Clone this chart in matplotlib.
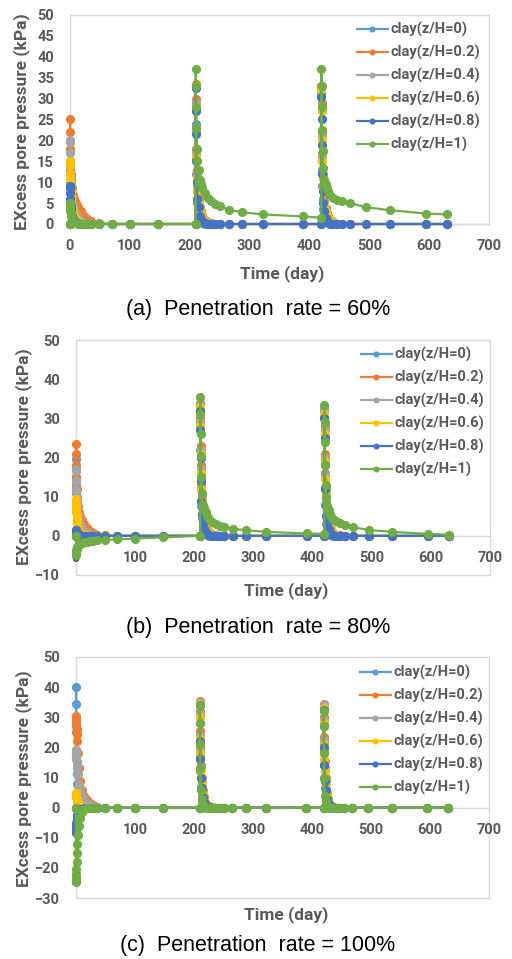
import matplotlib
matplotlib.use("Agg")
import matplotlib.pyplot as plt
from matplotlib.patches import Rectangle
from matplotlib import font_manager as fm

BOLD_FAMILIES = []
for fam in ['Roboto', 'Lato', 'Open Sans', 'Inter', 'Noto Sans', 'DejaVu Sans']:
    try:
        p = fm.findfont(fm.FontProperties(family=fam, weight='bold'), fallback_to_default=False)
        if 'bold' in p.lower():
            BOLD_FAMILIES.append(fam)
    except Exception:
        pass
BOLD_FAMILIES = BOLD_FAMILIES[:1] + ['DejaVu Sans']

plt.rcParams['font.family'] = BOLD_FAMILIES
plt.rcParams['font.weight'] = 'bold'

# ---------------- data ----------------
SERIES = ["clay(z/H=0)", "clay(z/H=0.2)", "clay(z/H=0.4)",
          "clay(z/H=0.6)", "clay(z/H=0.8)", "clay(z/H=1)"]
COLORS = ["#5B9BD5", "#ED7D31", "#A5A5A5", "#FFC000", "#4472C4", "#70AD47"]
CAPTIONS = ["(a)  Penetration  rate = 60%",
            "(b)  Penetration  rate = 80%",
            "(c)  Penetration  rate = 100%"]
X_TICKS = [0, 100, 200, 300, 400, 500, 600, 700]

TIME = ([0, 0.1, 0.2, 0.3, 0.5, 0.7, 1, 1.5, 2, 3, 5, 7, 10, 14, 18, 23, 28, 35, 49, 70, 100, 147]
        + [210, 210.1, 210.3, 210.6, 211, 212, 213, 215, 217, 219, 221, 225, 230, 236, 243, 251, 265, 288, 322, 390]
        + [420, 420.1, 420.3, 420.6, 421, 422, 423, 425, 427, 429, 431, 435, 440, 446, 455, 468, 495, 535, 595, 630])

# Panel (a) penetration rate 60 %
a_z00 = ([0, 14, 13, 12, 10, 9, 8, 6, 5, 3.5, 2, 1.2, 0.6, 0.3, 0.1, 0, 0, 0, 0, 0, 0, 0]
         + [0, 33, 24, 16, 12, 8, 5, 2.5, 1.2, 0.6, 0.3, 0.1, 0, 0, 0, 0, 0, 0, 0, 0]
         + [0, 31, 22, 13, 9, 6, 3.5, 1.8, 0.9, 0.4, 0.2, 0, 0, 0, 0, 0, 0, 0, 0, 0])
a_z02 = ([0, 25, 22, 18, 15, 13, 12, 10.5, 9.5, 8.5, 7, 6, 5, 4, 3, 2, 1.3, 0.6, 0.2, 0, 0, 0]
         + [0, 33.5, 30, 23, 18, 13, 10, 6, 4, 3, 2, 1, 0.5, 0.2, 0, 0, 0, 0, 0, 0]
         + [0, 33, 29, 22, 17, 12, 9, 5.5, 3.8, 2.6, 1.8, 0.9, 0.4, 0.1, 0, 0, 0, 0, 0, 0])
a_z04 = ([0, 20, 19.5, 17, 15, 13, 11, 9, 8, 6.5, 4.5, 3.5, 2.5, 1.5, 0.9, 0.5, 0.2, 0, 0, 0, 0, 0]
         + [0, 33, 29, 22, 17, 12, 9, 5.5, 3.8, 2.6, 1.8, 0.9, 0.4, 0.1, 0, 0, 0, 0, 0, 0]
         + [0, 32.5, 28, 21, 16, 11.5, 8.5, 5, 3.5, 2.4, 1.6, 0.8, 0.3, 0.1, 0, 0, 0, 0, 0, 0])
a_z06 = ([0, 15, 14, 12, 10.5, 9, 8, 7, 6, 4.5, 3, 2, 1.2, 0.6, 0.3, 0.1, 0, 0, 0, 0, 0, 0]
         + [0, 33, 28, 22, 16, 11, 8, 5, 3.5, 2.4, 1.6, 0.8, 0.3, 0.1, 0, 0, 0, 0, 0, 0]
         + [0, 32, 27, 20, 15, 11, 8, 4.5, 3, 2, 1.4, 0.6, 0.2, 0, 0, 0, 0, 0, 0, 0])
a_z08 = ([0, 9, 8.5, 7.5, 6, 5, 4.5, 3.5, 3, 2, 1.2, 0.7, 0.4, 0.2, 0.1, 0, 0, 0, 0, 0, 0, 0]
         + [0, 32.5, 27, 21.5, 15, 10, 6, 4, 2, 1.2, 0.7, 0.3, 0.1, 0, 0, 0, 0, 0, 0, 0]
         + [0, 30.5, 25, 19, 12, 8, 5, 3, 1.5, 0.8, 0.4, 0.1, 0, 0, 0, 0, 0, 0, 0, 0])
a_z10 = ([0, 5, 4.5, 4, 3.5, 3, 2.7, 2.2, 1.8, 1.3, 0.8, 0.5, 0.3, 0.1, 0, 0, 0, 0, 0, 0, 0, 0]
         + [0, 37, 33, 28, 23, 18, 15, 13, 10.5, 9.5, 8.5, 7.5, 6.3, 5.5, 4.8, 4.2, 3.4, 2.8, 2.3, 1.8]
         + [1.5, 37, 33, 28, 22.5, 17.5, 13.5, 10.5, 9.5, 8.5, 8, 7, 6.3, 5.8, 5.5, 5, 4, 3.3, 2.5, 2.3])

# Panel (b) penetration rate 80 %
b_z00 = ([0, 19.5, 17, 15, 12, 11, 9.5, 7.5, 6, 4, 2.5, 1.5, 0.8, 0.4, 0.2, 0.1, 0, 0, 0, 0, 0, 0]
         + [0, 32, 22, 15.5, 12, 7.5, 4.5, 2, 1, 0.5, 0.2, 0, 0, 0, 0, 0, 0, 0, 0, 0]
         + [0, 30, 20, 12.5, 8, 5, 3, 1.5, 0.7, 0.3, 0.1, 0, 0, 0, 0, 0, 0, 0, 0, 0])
b_z02 = ([0, 23.5, 21, 18, 15, 13, 12, 10, 9, 7.5, 6, 5, 4, 3, 2, 1.2, 0.6, 0.3, 0.1, 0, 0, 0]
         + [0, 34, 30, 23, 18, 13, 10, 6, 4, 2.8, 2, 1, 0.4, 0.1, 0, 0, 0, 0, 0, 0]
         + [0, 32.5, 28, 21, 16, 12, 9, 5.5, 3.8, 2.5, 1.7, 0.8, 0.3, 0.1, 0, 0, 0, 0, 0, 0])
b_z04 = ([0, 17, 16.5, 14, 12, 11.5, 10, 8.5, 7, 5.5, 4, 3, 2, 1.2, 0.6, 0.3, 0.1, 0, 0, 0, 0, 0]
         + [0, 33.5, 29, 22, 17, 12.5, 9.5, 5.5, 3.8, 2.6, 1.8, 0.9, 0.3, 0.1, 0, 0, 0, 0, 0, 0]
         + [0, 32, 27, 20, 15.5, 11.5, 8.5, 5, 3.4, 2.3, 1.5, 0.7, 0.2, 0, 0, 0, 0, 0, 0, 0])
b_z06 = ([0, 9.5, 9, 8, 7, 6, 5, 4, 3.2, 2.2, 1.4, 0.8, 0.4, 0.2, 0.1, 0, 0, 0, 0, 0, 0, 0]
         + [0, 33, 28, 21, 16, 12, 9, 5, 3.5, 2.4, 1.6, 0.8, 0.3, 0, 0, 0, 0, 0, 0, 0]
         + [0, 31, 26, 19, 14.5, 10.5, 8, 4.5, 3, 2, 1.3, 0.6, 0.2, 0, 0, 0, 0, 0, 0, 0])
b_z08 = ([0, 1.5, 1.4, 1.2, 1, 0.9, 0.8, 0.6, 0.5, 0.3, 0.2, 0.1, 0, 0, 0, 0, 0, 0, 0, 0, 0, 0]
         + [0, 32, 27, 20, 14, 9, 5.5, 3.5, 2, 1, 0.5, 0.2, 0, 0, 0, 0, 0, 0, 0, 0]
         + [0, 30, 25, 18, 12, 8, 5, 3, 1.7, 0.9, 0.4, 0.1, 0, 0, 0, 0, 0, 0, 0, 0])
b_z10 = ([0, -5, -4.7, -4.4, -4, -3.7, -3.4, -3, -2.8, -2.5, -2.2, -2, -1.8, -1.6, -1.5, -1.3, -1.2, -1.1, -1, -0.9, -0.7, -0.4]
         + [0, 35.5, 31, 26, 20.5, 15, 11, 8, 7, 6, 5, 4.3, 3.6, 3, 2.6, 2.3, 1.8, 1.4, 1, 0.6]
         + [0.5, 33.5, 29, 24, 18, 13, 10, 7.5, 6.5, 5.5, 4.8, 4.2, 3.7, 3.2, 2.8, 2.2, 1.5, 1, 0.5, 0.3])

# Panel (c) penetration rate 100 %
c_z00 = ([0, 40, 34.5, 30, 25, 19, 15, 11, 8, 5, 3, 1.8, 1, 0.5, 0.2, 0.1, 0, 0, 0, 0, 0, 0]
         + [0, 34, 24, 17, 12, 7, 4, 1.8, 0.8, 0.3, 0.1, 0, 0, 0, 0, 0, 0, 0, 0, 0]
         + [0, 33, 22, 14, 10, 6.5, 3.5, 1.5, 0.6, 0.2, 0, 0, 0, 0, 0, 0, 0, 0, 0, 0])
c_z02 = ([0, 30.5, 30, 29, 28, 27, 26, 24.5, 22, 18, 13, 9, 6, 4, 2.5, 1.5, 0.8, 0.3, 0, 0, 0, 0]
         + [0, 35.5, 32, 25.5, 20, 14, 10, 5.5, 3.5, 2, 1.2, 0.4, 0.1, 0, 0, 0, 0, 0, 0, 0]
         + [0, 34.5, 30, 23.5, 19, 15.5, 10, 5, 3, 1.7, 1, 0.3, 0, 0, 0, 0, 0, 0, 0, 0])
c_z04 = ([0, 19, 18.5, 18, 17, 16, 15, 14, 13, 11, 8, 6, 4, 2.5, 1.5, 0.8, 0.4, 0.1, 0, 0, 0, 0]
         + [0, 35, 31, 24, 19, 13, 9, 5, 3, 1.7, 1, 0.3, 0, 0, 0, 0, 0, 0, 0, 0]
         + [0, 34, 29, 22.5, 18, 13, 9, 4.5, 2.7, 1.5, 0.8, 0.2, 0, 0, 0, 0, 0, 0, 0, 0])
c_z06 = ([0, 5, 4.8, 4.5, 4, 3.5, 3, 2.5, 2, 1.5, 1, 0.6, 0.3, 0.1, 0, 0, 0, 0, 0, 0, 0, 0]
         + [0, 34.5, 30, 23, 18, 12, 8, 4.5, 2.7, 1.5, 0.8, 0.2, 0, 0, 0, 0, 0, 0, 0, 0]
         + [0, 33, 28, 21, 16, 12, 8, 4, 2.4, 1.3, 0.7, 0.2, 0, 0, 0, 0, 0, 0, 0, 0])
c_z08 = ([0, -8.5, -8, -7, -6, -5, -4, -3, -2.4, -1.7, -1, -0.6, -0.3, -0.1, 0, 0, 0, 0, 0, 0, 0, 0]
         + [0, 34, 28, 22, 16, 10, 6.5, 3.5, 2, 1, 0.5, 0.1, 0, 0, 0, 0, 0, 0, 0, 0]
         + [0, 32.5, 27, 20, 14, 9, 6, 3, 1.7, 0.9, 0.4, 0.1, 0, 0, 0, 0, 0, 0, 0, 0])
c_z10 = ([0, -24.8, -24.2, -23.3, -22, -20.5, -18, -15, -12, -9, -6, -3.5, -1.5, -0.5, -0.2, 0, 0, 0, 0, 0, 0, 0]
         + [0, 34, 28, 21, 13, 6, 3, 1, 0.4, 0.1, 0, 0, 0, 0, 0, 0, 0, 0, 0, 0]
         + [0, 32, 27, 18, 10, 4, 2, 0.7, 0.2, 0, 0, 0, 0, 0, 0, 0, 0, 0, 0, 0])

PANEL_DATA = [
    [a_z00, a_z02, a_z04, a_z06, a_z08, a_z10],
    [b_z00, b_z02, b_z04, b_z06, b_z08, b_z10],
    [c_z00, c_z02, c_z04, c_z06, c_z08, c_z10],
]
Y_LIMITS = [(0, 50), (-10, 50), (-30, 50)]
Y_TICKS = [list(range(0, 51, 5)), list(range(-10, 51, 10)), list(range(-30, 51, 10))]

# ---------------- layout (pixels) ----------------
W, H = 512, 959
TXT = "#595959"
GRID = "#D9D9D9"
AREAS = [(70, 15, 489, 224), (76, 340, 490, 575), (76, 657, 489, 898)]
LEG_POS = [(357, 22), (361, 347), (360, 665)]
XLAB_POS = [(282, 274), (286, 591), (286, 915)]
YLAB_POS = [(22, 122), (24, 457), (24, 779)]
CAP_POS = [(258, 310), (258, 627), (258, 946)]

fig = plt.figure(figsize=(W / 100, H / 100), dpi=100)

for i in range(3):
    l, t, r, b = AREAS[i]
    ax = fig.add_axes([l / W, 1 - b / H, (r - l) / W, (b - t) / H])
    for name, col, vals in zip(SERIES, COLORS, PANEL_DATA[i]):
        ax.plot(TIME, vals, color=col, lw=1.6, marker='o', ms=5.6,
                label=name, clip_on=False, zorder=3)
    ax.set_xlim(0, 700)
    ax.set_ylim(*Y_LIMITS[i])
    ax.set_xticks(X_TICKS)
    ax.set_yticks(Y_TICKS[i])
    for s in ['top', 'left', 'right']:
        ax.spines[s].set_visible(False)
    ax.spines['bottom'].set_position(('data', 0))
    ax.spines['bottom'].set_color(GRID)
    ax.spines['bottom'].set_linewidth(1.0)
    ax.spines['bottom'].set_zorder(1)
    ax.add_patch(Rectangle((0, 0), 1, 1, transform=ax.transAxes, fill=False,
                           edgecolor=GRID, lw=1.0, zorder=0, clip_on=False))
    ax.tick_params(length=0, labelsize=10.5, labelcolor=TXT)
    ax.tick_params(axis='y', pad=11.5)
    ax.tick_params(axis='x', pad=11)
    for lbl in ax.get_xticklabels() + ax.get_yticklabels():
        lbl.set_fontweight('bold')
    leg = ax.legend(loc='upper left',
                    bbox_to_anchor=(LEG_POS[i][0] / W, 1 - LEG_POS[i][1] / H),
                    bbox_transform=fig.transFigure, frameon=False,
                    borderpad=0, borderaxespad=0, handlelength=2.1,
                    handletextpad=0.2, labelspacing=0.55, markerscale=0.6,
                    prop={'size': 10.5, 'weight': 'bold'})
    for tx in leg.get_texts():
        tx.set_color(TXT)
    fig.text(XLAB_POS[i][0] / W, 1 - XLAB_POS[i][1] / H, "Time (day)",
             ha='center', va='center', fontsize=12.5, color=TXT, fontweight='bold')
    fig.text(YLAB_POS[i][0] / W, 1 - YLAB_POS[i][1] / H, "EXcess pore pressure (kPa)",
             ha='center', va='center', rotation=90, fontsize=12.5, color=TXT,
             fontweight='bold')
    fig.text(CAP_POS[i][0] / W, 1 - CAP_POS[i][1] / H, CAPTIONS[i],
             ha='center', va='center', fontsize=15.5, color='black',
             fontweight='normal', family=['Liberation Sans', 'DejaVu Sans'])

fig.savefig("out.png", dpi=100)
